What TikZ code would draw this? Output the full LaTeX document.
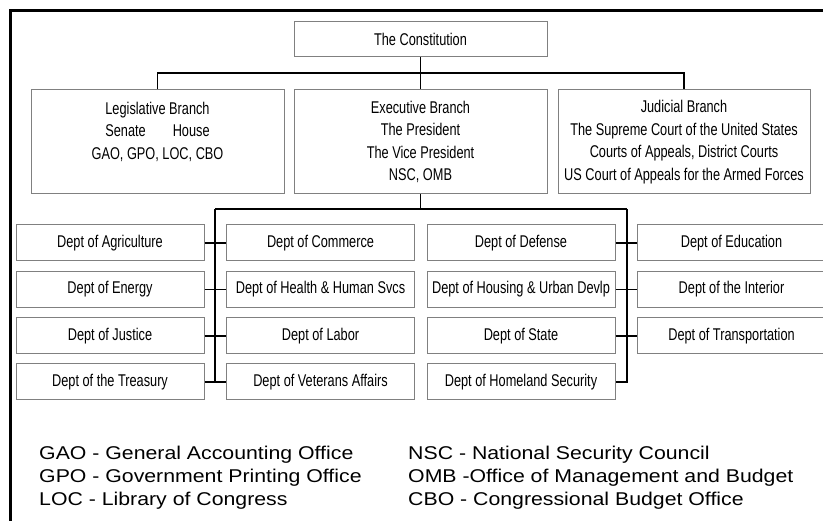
\documentclass[tikz,border=0pt]{standalone}
\usepackage{fontspec}
\setmainfont[FakeStretch=0.75]{Liberation Sans}
\newfontfamily\legendfont[FakeStretch=1.15]{Liberation Sans}
\definecolor{boxgray}{RGB}{128,128,128}
\begin{document}
\begin{tikzpicture}[x=1pt,y=-1pt,
    orgbox/.style={draw=boxgray, line width=1pt, inner sep=0pt, align=center,
      font=\fontsize{17}{22.6}\selectfont},
    deptbox/.style={orgbox, minimum width=188pt, minimum height=36pt},
    branchbox/.style={orgbox, minimum width=253pt, minimum height=104pt},
    link/.style={draw=black, line width=1.2pt},
    abbrev/.style={anchor=north west, align=left, inner sep=0pt,
      font=\legendfont\fontsize{18.5}{23}\selectfont}]
      \useasboundingbox (0,0) rectangle (823,521);
      \clip (0,0) rectangle (823,521);
      \draw[line width=3pt] (10.5,10.5) rectangle (840,540);
      % top level
      \node[orgbox, minimum width=253pt, minimum height=35pt] (const) at (420.5,39.5) {The Constitution};
      \node[branchbox] (leg) at (157.5,142) {Legislative Branch\\ Senate\hspace{27pt}House\\ GAO, GPO, LOC, CBO\\ \mbox{}};
      \node[branchbox] (exec) at (420.5,142) {Executive Branch\\ The President\\ The Vice President\\ NSC, OMB};
      \node[branchbox, minimum width=252pt] (jud) at (684,142) {Judicial Branch\\ The Supreme Court of the United States\\ Courts of Appeals, District Courts\\ US Court of Appeals for the Armed Forces};
      \coordinate (bus1) at (420.5,73);
      \draw[link] (const.south) -- (exec.north);
      \draw[link] (leg.north) |- (bus1) -| (jud.north);
      % departments
      \node[deptbox] (agri) at (110,243) {Dept of Agriculture};
      \node[deptbox] (energy) at (110,289.5) {Dept of Energy};
      \node[deptbox] (justice) at (110,336) {Dept of Justice};
      \node[deptbox] (treas) at (110,382) {Dept of the Treasury};
      \node[deptbox] (comm) at (320.5,243) {Dept of Commerce};
      \node[deptbox] (health) at (320.5,289.5) {Dept of Health \& Human Svcs};
      \node[deptbox] (labor) at (320.5,336) {Dept of Labor};
      \node[deptbox] (vet) at (320.5,382) {Dept of Veterans Affairs};
      \node[deptbox] (def) at (521,243) {Dept of Defense};
      \node[deptbox] (housing) at (521,289.5) {Dept of Housing \& Urban Devlp};
      \node[deptbox] (state) at (521,336) {Dept of State};
      \node[deptbox] (home) at (521,382) {Dept of Homeland Security};
      \node[deptbox] (edu) at (731.5,243) {Dept of Education};
      \node[deptbox] (interior) at (731.5,289.5) {Dept of the Interior};
      \node[deptbox] (transp) at (731.5,336) {Dept of Transportation};
      \coordinate (bus2) at (420.5,209);
      \coordinate (lspine) at (215,209);
      \coordinate (rspine) at (627,209);
      \draw[link] (exec.south) -- (bus2);
      \draw[link] (lspine) -- (rspine);
      \draw[link] (lspine) |- (treas.east);
      \draw[link] (rspine) |- (home.east);
      \draw[link] (agri.east) -- (comm.west);
      \draw[link] (energy.east) -- (health.west);
      \draw[link] (justice.east) -- (labor.west);
      \draw[link] (treas.east) -- (vet.west);
      \draw[link] (def.east) -- (edu.west);
      \draw[link] (housing.east) -- (interior.west);
      \draw[link] (state.east) -- (transp.west);
      % abbreviations
      \node[abbrev] (abbrl) at (39,445.5) {GAO - General Accounting Office\\ GPO - Government Printing Office\\ LOC - Library of Congress};
      \node[abbrev] (abbrr) at (408,445.5) {NSC - National Security Council\\ OMB -Office of Management and Budget\\ CBO - Congressional Budget Office};
     \end{tikzpicture}
\end{document}
